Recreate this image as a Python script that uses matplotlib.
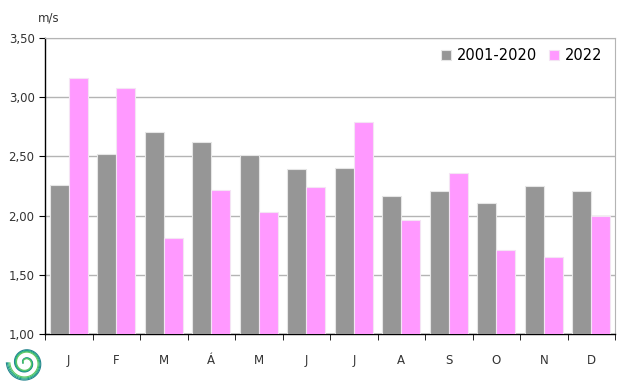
import matplotlib.pyplot as plt
import numpy as np

months = ['J', 'F', 'M', 'Á', 'M', 'J', 'J', 'A', 'S', 'O', 'N', 'D']
avg_2001_2020 = [2.26, 2.52, 2.71, 2.62, 2.51, 2.39, 2.40, 2.17, 2.21, 2.11, 2.25, 2.21]
year_2022 = [3.16, 3.08, 1.81, 2.22, 2.03, 2.24, 2.79, 1.96, 2.36, 1.71, 1.65, 2.00]

fig = plt.figure(figsize=(6.4, 3.84), dpi=100)
ax = fig.add_axes([0.0703, 0.130, 0.891, 0.771])

x = np.arange(len(months))
w = 0.4
ax.bar(x - w / 2, avg_2001_2020, w, color='#969696',
       edgecolor='#e6e6e6', linewidth=0.8, label='2001-2020', zorder=3)
ax.bar(x + w / 2, year_2022, w, color='#ff99ff',
       edgecolor='#f4e4f4', linewidth=0.8, label='2022', zorder=3)

ax.set_xlim(-0.5, len(months) - 0.5)
ax.set_ylim(1.0, 3.5)
yt = np.arange(1.0, 3.51, 0.5)
ax.set_yticks(yt)
ax.set_yticklabels([f'{v:.2f}'.replace('.', ',') for v in yt])
ax.set_xticks(x)
ax.set_xticklabels(months)
ax.set_xticks(np.arange(-0.5, len(months)), minor=True)
ax.tick_params(axis='x', which='major', length=0, pad=14, labelsize=8.5, labelcolor='#333333')
ax.tick_params(axis='x', which='minor', length=4, color='black', direction='out')
ax.tick_params(axis='y', length=4, labelsize=8.5, labelcolor='#333333')

ax.yaxis.grid(True, color='#b4b4b4', linewidth=1.0, zorder=0)
for s in ['top', 'right']:
    ax.spines[s].set_color('#b4b4b4')
for s in ['left', 'bottom']:
    ax.spines[s].set_color('black')
    ax.spines[s].set_linewidth(1.0)

ax.text(-0.012, 1.055, 'm/s', transform=ax.transAxes, fontsize=8.5, color='#333333', ha='left')

ax.legend(loc='upper right', frameon=False, fontsize=10.5, handlelength=0.7,
          handleheight=0.7, handletextpad=0.4, columnspacing=0.8, ncol=2,
          bbox_to_anchor=(1.0, 1.01))

# small spiral logo in the bottom-left corner
lax = fig.add_axes([0.005, 0.0, 0.07, 0.11])
t = np.linspace(0, 4 * np.pi, 300)
r = 0.15 + 0.85 * t / t.max()
for k in range(4):
    rr = r * (1 - 0.06 * k)
    lax.plot(rr * np.cos(-t + np.pi), rr * np.sin(-t + np.pi), color=plt.cm.viridis(0.45 + 0.1 * k), lw=0.8)
lax.set_xlim(-1.1, 1.1)
lax.set_ylim(-1.1, 1.1)
lax.set_aspect('equal')
lax.axis('off')

fig.savefig('out.png')
